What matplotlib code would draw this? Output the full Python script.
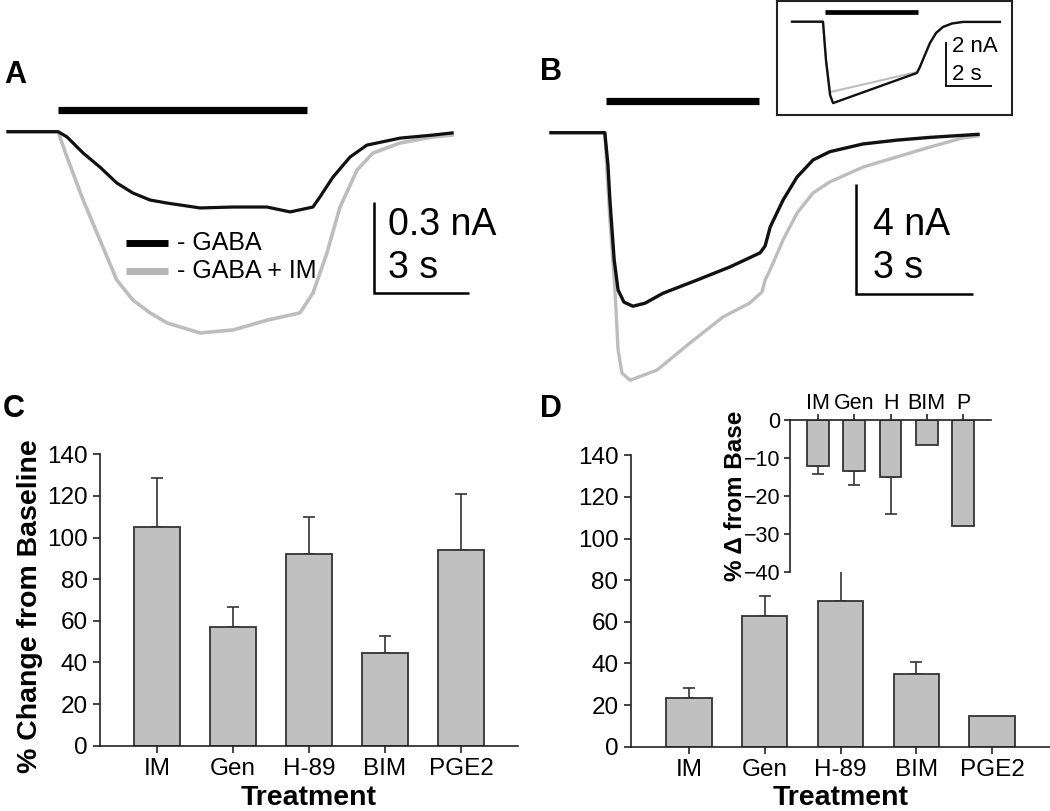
import numpy as np
import matplotlib
matplotlib.use("Agg")
import matplotlib.pyplot as plt

plt.rcParams['font.family'] = ['Liberation Sans', 'DejaVu Sans']

# ---- data ----
treatments = ["IM", "Gen", "H-89", "BIM", "PGE2"]
inset_labels = ["IM", "Gen", "H", "BIM", "P"]

c_mean = [105.0, 57.0, 92.0, 44.5, 94.0]
c_err = [23.6, 9.8, 18.0, 8.0, 27.0]

d_mean = [23.5, 63.0, 70.2, 35.1, 14.9]
d_err = [4.9, 9.4, 19.0, 5.7, 0.0]

d_inset_mean = [-12.1, -13.3, -15.0, -6.6, -27.9]
d_inset_err = [2.1, 3.8, 9.7, 0.0, 0.0]

# panel A traces (time s, current nA)
a_t_gaba = [0, 1.58, 1.86, 2.37, 2.90, 3.43, 3.94, 4.48, 5.02, 6.06, 7.10, 8.17,
            8.90, 9.62, 9.84, 10.25, 10.79, 11.32, 12.37, 13.41, 14.01]
a_i_gaba = [0, 0, -0.017, -0.070, -0.116, -0.168, -0.201, -0.224, -0.234, -0.250,
            -0.247, -0.247, -0.263, -0.247, -0.214, -0.149, -0.083, -0.044,
            -0.021, -0.011, -0.004]
a_t_im = [0, 1.58, 1.86, 2.37, 2.90, 3.43, 3.94, 4.48, 5.02, 6.06, 7.10, 8.17,
          9.21, 9.62, 10.06, 10.47, 11.01, 11.51, 12.37, 13.41, 14.01]
a_i_im = [0, 0, -0.083, -0.224, -0.355, -0.486, -0.552, -0.594, -0.627, -0.660,
          -0.650, -0.618, -0.594, -0.529, -0.398, -0.248, -0.126, -0.070,
          -0.037, -0.017, -0.011]
a_drug = [1.58, 9.43]

# panel B traces
b_t_gaba = [0, 1.38, 1.46, 1.51, 1.62, 1.72, 1.87, 2.10, 2.41, 2.87, 3.74, 4.59,
            5.36, 5.49, 5.62, 5.95, 6.31, 6.72, 7.15, 8.00, 8.87, 9.72, 10.95]
b_i_gaba = [0, 0, -1.17, -2.45, -4.63, -5.72, -6.16, -6.31, -6.20, -5.84, -5.36,
            -4.88, -4.37, -4.12, -3.43, -2.45, -1.61, -0.99, -0.69, -0.41, -0.27,
            -0.17, -0.06]
b_t_im = [0, 1.38, 1.51, 1.64, 1.72, 1.82, 2.03, 2.72, 3.56, 4.41, 5.10, 5.41,
          5.49, 5.64, 5.95, 6.31, 6.72, 7.15, 8.00, 8.87, 9.72, 10.56, 10.95]
b_i_im = [0, 0, -3.17, -5.72, -7.90, -8.74, -9.00, -8.63, -7.65, -6.70, -6.19,
          -5.79, -5.36, -4.92, -3.90, -2.92, -2.19, -1.79, -1.25, -0.88, -0.52,
          -0.19, -0.12]
b_drug = [1.41, 5.33]

# panel B inset traces
bi_t_gaba = [0, 1.36, 1.49, 1.67, 1.80, 5.48, 5.61, 5.83, 6.05, 6.32, 6.62, 7.02,
             7.50, 9.12]
bi_i_gaba = [0, 0, -1.74, -3.33, -3.70, -2.33, -2.06, -1.51, -0.97, -0.51, -0.24,
             -0.08, -0.01, -0.01]
bi_t_im = [0, 1.36, 1.49, 1.67, 5.48, 5.61, 5.83, 6.05, 6.32, 6.62, 7.02, 7.50,
           9.12]
bi_i_im = [0, 0, -1.74, -3.20, -2.29, -2.06, -1.51, -0.97, -0.51, -0.24, -0.08,
           -0.01, -0.01]
bi_drug = [1.45, 5.51]

BLACK = '#111111'
GRAY = '#bdbdbd'
BAR = '#c0c0c0'
EDGE = '#333333'

W, H = 1050, 811
fig = plt.figure(figsize=(W / 100, H / 100), dpi=100)


def px_axes(x0, y0, x1, y1):
    return fig.add_axes([x0 / W, 1 - y1 / H, (x1 - x0) / W, (y1 - y0) / H])


def ptext(x, y, s, **kw):
    return fig.text(x / W, 1 - y / H, s, **kw)


def trace_axes(box, x0px, base_px, px_s, px_nA):
    ax = px_axes(*box)
    ax.set_xlim((box[0] - x0px) / px_s, (box[2] - x0px) / px_s)
    ax.set_ylim(-(box[3] - base_px) / px_nA, -(box[1] - base_px) / px_nA)
    ax.axis('off')
    return ax


def scale_bar(ax, t0, i0, dt, di, lw=1.8):
    ax.plot([t0, t0, t0 + dt], [i0, i0 - di, i0 - di], color='black', lw=lw,
            solid_capstyle='butt', solid_joinstyle='miter', clip_on=False)


# ---------- Panel A ----------
axA = trace_axes((0, 60, 520, 360), 8, 131.7, 31.7, 305)
axA.plot(a_t_im, a_i_im, color=GRAY, lw=2.6, clip_on=False)
axA.plot(a_t_gaba, a_i_gaba, color=BLACK, lw=2.3, clip_on=False)
axA.plot(a_drug, [0.071, 0.071], color='black', lw=5.2, solid_capstyle='butt')
scale_bar(axA, 11.55, -0.23, 3, 0.30)
axA.plot([3.72, 5.05], [-0.364, -0.364], color='black', lw=5, solid_capstyle='butt')
axA.plot([3.72, 5.05], [-0.456, -0.456], color='#b5b5b5', lw=5, solid_capstyle='butt')
ptext(177, 250, "- GABA", fontsize=18, va='baseline')
ptext(177, 278, "- GABA + IM", fontsize=18, va='baseline')
ptext(388, 235, "0.3 nA", fontsize=27, va='baseline')
ptext(388, 278, "3 s", fontsize=27, va='baseline')

# ---------- Panel B ----------
axB = trace_axes((530, 0, 1050, 400), 551, 132.7, 39, 27.5)
axB.plot(b_t_im, b_i_im, color=GRAY, lw=2.4, clip_on=False)
axB.plot(b_t_gaba, b_i_gaba, color=BLACK, lw=2.4, clip_on=False)
axB.plot(b_drug, [1.15, 1.15], color='black', lw=5.2, solid_capstyle='butt')
scale_bar(axB, 7.81, -1.87, 3, 4)
ptext(873, 235, "4 nA", fontsize=27, va='baseline')
ptext(873, 278, "3 s", fontsize=27, va='baseline')

# inset of B
axBi = px_axes(777, 1, 1012, 115)
axBi.set_xlim((777 - 792) / 22.8, (1012 - 792) / 22.8)
axBi.set_ylim(-(115 - 21.7) / 22, -(1 - 21.7) / 22)
axBi.set_xticks([])
axBi.set_yticks([])
for sp in axBi.spines.values():
    sp.set_linewidth(1.5)
    sp.set_color('#222222')
axBi.plot(bi_t_im, bi_i_im, color=GRAY, lw=1.5)
axBi.plot(bi_t_gaba, bi_i_gaba, color=BLACK, lw=1.7)
axBi.plot(bi_drug, [0.43, 0.43], color='black', lw=3.4, solid_capstyle='butt')
scale_bar(axBi, 6.75, -0.92, 2, 2, lw=1.3)
ptext(952, 52, "2 nA", fontsize=16, va='baseline')
ptext(952, 80, "2 s", fontsize=16, va='baseline')


# ---------- bar panels ----------
def style_axes(ax):
    for sp in ['top', 'right']:
        ax.spines[sp].set_visible(False)
    for sp in ['left', 'bottom']:
        ax.spines[sp].set_linewidth(1.2)
        ax.spines[sp].set_color('#222222')
    ax.tick_params(direction='out', length=5, width=1.2, color='#222222',
                   labelsize=17.5, pad=4)


def bars(ax, means, errs, up=True):
    x = np.arange(len(means))
    ax.bar(x, means, width=0.6, color=BAR, edgecolor=EDGE, linewidth=1.3, zorder=2)
    errs = np.array(errs)
    keep = errs > 0
    if up:
        yerr = [np.zeros(keep.sum()), errs[keep]]
    else:
        yerr = [errs[keep], np.zeros(keep.sum())]
    ax.errorbar(x[keep], np.array(means)[keep], yerr=yerr, fmt='none',
                ecolor=EDGE, elinewidth=1.2, capsize=4, capthick=1.2, zorder=1)


# Panel C
axC = px_axes(100, 454.3, 518, 745.7)
style_axes(axC)
bars(axC, c_mean, c_err)
axC.set_xlim(-0.75, 4.75)
axC.set_ylim(0, 140)
axC.set_yticks(range(0, 141, 20))
axC.set_xticks(range(len(treatments)))
axC.set_xticklabels(treatments)
axC.set_ylabel("% Change from Baseline", fontsize=20.5, fontweight='bold')
axC.yaxis.set_label_coords(-0.136, 0.48)
axC.set_xlabel("Treatment", fontsize=20.5, fontweight='bold')
axC.xaxis.set_label_coords(0.5, -0.135)

# Panel D
axD = px_axes(631, 455.3, 1050, 746.7)
style_axes(axD)
bars(axD, d_mean, d_err)
axD.set_xlim((631 - 689) / 75.75, (1050 - 689) / 75.75)
axD.set_ylim(0, 140)
axD.set_yticks(range(0, 141, 20))
axD.set_xticks(range(len(treatments)))
axD.set_xticklabels(treatments)
axD.set_xlabel("Treatment", fontsize=20.5, fontweight='bold')
axD.xaxis.set_label_coords(0.5, -0.131)

# inset of D
axDi = px_axes(790, 420, 991, 572.3)
for sp in ['bottom', 'right']:
    axDi.spines[sp].set_visible(False)
for sp in ['left', 'top']:
    axDi.spines[sp].set_linewidth(1.2)
    axDi.spines[sp].set_color('#222222')
bars(axDi, d_inset_mean, d_inset_err, up=False)
axDi.set_xlim(-0.77, 4.77)
axDi.set_ylim(-40, 0)
axDi.set_yticks(range(-40, 1, 10))
axDi.set_xticks(range(len(inset_labels)))
axDi.set_xticklabels(inset_labels)
axDi.xaxis.tick_top()
axDi.tick_params(direction='out', length=4, width=1.2, color='#222222',
                 labelsize=15.5)
axDi.tick_params(axis='x', pad=0)
axDi.tick_params(axis='y', pad=3)
axDi.set_ylabel("% Δ from Base", fontsize=17.5, fontweight='bold')
axDi.yaxis.set_label_coords(-0.215, 0.5)

# panel letters
for lx, ly, lab in [(4, 75, "A"), (540, 72, "B"), (3, 409, "C"), (540, 409, "D")]:
    ptext(lx, ly, lab, fontsize=22, fontweight='bold', va='center')

fig.savefig("out.png", dpi=100)
